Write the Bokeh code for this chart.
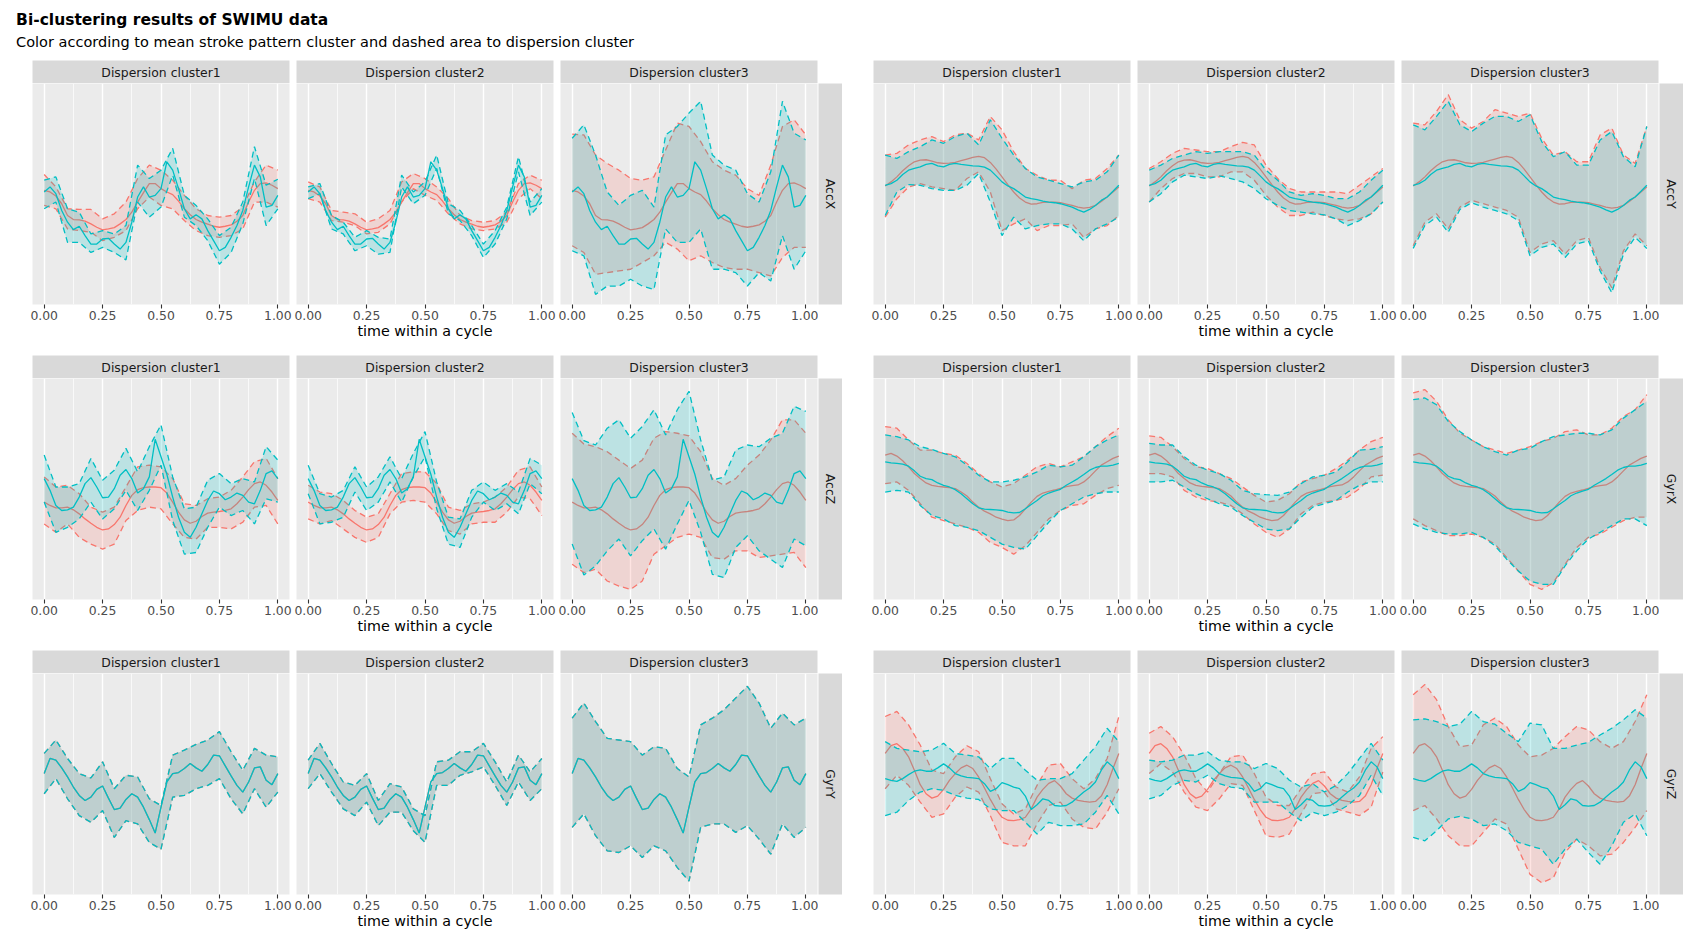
import math
from bokeh.plotting import figure
from bokeh.layouts import row, column
from bokeh.models import Range1d, FixedTicker, PrintfTickFormatter
from bokeh.embed import file_html
from bokeh.resources import INLINE
from bokeh.core.properties import value

# ---------------- data (arbitrary sensor units) ----------------
# band limits are sampled every 0.05 of the cycle, mean curves every 0.025
time = [0.00, 0.05, 0.10, 0.15, 0.20, 0.25, 0.30, 0.35, 0.40, 0.45, 0.50,
        0.55, 0.60, 0.65, 0.70, 0.75, 0.80, 0.85, 0.90, 0.95, 1.00]
time_fine = [0.000, 0.025, 0.050, 0.075, 0.100, 0.125, 0.150, 0.175, 0.200, 0.225,
             0.250, 0.275, 0.300, 0.325, 0.350, 0.375, 0.400, 0.425, 0.450, 0.475,
             0.500, 0.525, 0.550, 0.575, 0.600, 0.625, 0.650, 0.675, 0.700, 0.725,
             0.750, 0.775, 0.800, 0.825, 0.850, 0.875, 0.900, 0.925, 0.950, 0.975, 1.000]
clusters = ["Dispersion cluster1", "Dispersion cluster2", "Dispersion cluster3"]
x_ticks = [0.0, 0.25, 0.5, 0.75, 1.0]
x_minor = [0.125, 0.375, 0.625, 0.875]
title_text = "Bi-clustering results of SWIMU data"
subtitle_text = "Color according to mean stroke pattern cluster and dashed area to dispersion cluster"
x_label = "time within a cycle"

# AccX
accx_red_mean = [395,390,378,355,320,308,307,303,295,285,277,280,284,295,308,330,360,388,415,415,
                 400,390,382,363,340,322,308,300,294,288,285,288,292,303,320,360,395,415,417,410,400]
accx_teal_mean = [390,405,385,335,300,278,288,260,235,235,250,252,235,220,240,300,375,405,375,380,
                  400,480,455,400,340,310,322,310,275,245,215,225,255,290,335,405,470,435,345,350,380]
accx_c1_red_hi = [442,405,340,338,338,310,325,360,430,470,455,425,380,340,320,315,320,345,420,470,455]
accx_c1_red_lo = [350,340,280,275,270,245,255,275,340,375,350,340,305,275,260,255,260,280,360,360,345]
accx_c1_teal_hi = [425,435,340,330,265,275,265,290,470,430,455,520,380,350,310,260,285,360,525,410,428]
accx_c1_teal_lo = [340,360,240,240,210,225,210,188,360,315,345,440,315,290,245,175,210,295,430,290,340]
accx_c2_red_hi = [420,405,335,330,325,300,310,335,420,445,430,405,370,320,305,300,305,330,415,440,425]
accx_c2_red_lo = [370,360,305,300,290,265,270,295,360,400,380,365,325,295,280,275,280,300,370,400,370]
accx_c2_teal_hi = [405,415,320,300,255,275,255,250,440,390,420,500,355,335,290,235,275,345,495,360,400]
accx_c2_teal_lo = [370,385,280,265,215,230,205,210,405,355,380,460,325,305,260,195,235,310,450,320,360]
accx_c3_red_hi = [562,560,500,475,455,430,425,435,515,595,585,540,480,455,440,400,380,470,585,605,560]
accx_c3_red_lo = [230,210,145,150,155,160,180,200,240,220,185,200,180,165,160,160,150,140,195,225,225]
accx_c3_teal_hi = [550,590,500,390,350,380,395,345,560,585,625,660,500,470,455,385,360,450,660,565,545]
accx_c3_teal_lo = [215,200,85,110,110,130,110,100,280,240,240,280,160,160,150,110,150,125,260,160,215]

# AccY
accy_red_mean = [408,420,435,453,468,480,485,486,482,477,475,476,478,483,488,493,496,492,478,458,
                 435,412,390,372,360,354,355,359,360,360,358,354,350,345,342,344,350,362,375,390,405]
accy_teal_mean = [410,415,425,442,455,460,465,472,475,468,465,472,475,472,470,468,467,464,455,438,
                  420,408,400,388,375,370,367,363,360,358,355,350,345,337,330,338,350,365,375,392,410]
accy_c1_red_hi = [500,505,530,545,555,540,560,565,545,615,575,510,460,440,425,425,400,425,430,460,500]
accy_c1_red_lo = [315,370,405,415,405,400,395,430,450,390,275,295,310,275,290,290,295,255,280,290,320]
accy_c1_teal_hi = [500,490,510,525,545,535,555,565,530,605,550,500,460,435,425,415,405,420,425,450,500]
accy_c1_teal_lo = [320,390,412,410,400,395,395,410,445,360,260,315,280,290,295,295,280,245,280,295,315]
accy_c2_red_hi = [460,480,505,520,515,510,510,525,538,530,470,430,400,390,390,390,390,385,410,435,460]
accy_c2_red_lo = [360,400,430,445,445,435,435,450,450,425,380,345,320,320,330,320,310,305,310,325,360]
accy_c2_teal_hi = [455,470,490,500,510,505,510,510,510,500,455,425,390,380,385,380,370,370,390,425,455]
accy_c2_teal_lo = [360,385,420,440,435,430,438,430,420,400,370,350,335,330,325,322,310,290,305,325,360]
accy_c3_red_hi = [595,590,630,680,605,580,600,635,625,615,625,550,500,510,480,480,560,580,500,475,585]
accy_c3_red_lo = [230,300,325,280,345,365,355,345,335,315,210,235,245,205,245,255,165,105,215,265,230]
accy_c3_teal_hi = [590,575,615,660,590,570,595,615,615,600,620,540,495,510,470,470,545,570,495,465,585]
accy_c3_teal_lo = [222,290,315,270,338,358,345,335,325,305,200,225,235,195,235,245,155,90,205,255,222]

# AccZ
accz_red_mean = [345,335,328,328,330,322,310,295,282,270,262,265,278,300,335,365,382,388,390,390,
                 388,372,345,315,292,282,288,302,312,315,317,320,325,340,360,382,400,405,395,375,350]
accz_teal_mean = [415,380,335,320,322,330,360,400,418,390,358,360,385,425,442,415,372,385,420,532,
                  480,428,360,300,255,240,270,310,350,378,370,352,360,372,365,345,340,380,430,438,415]
accz_c1_red_hi = [420,390,395,370,330,315,330,390,450,455,450,415,340,335,355,360,380,420,465,475,415]
accz_c1_red_lo = [280,255,280,240,220,205,220,290,320,330,325,280,240,235,270,270,265,285,330,335,280]
accz_c1_teal_hi = [485,390,390,400,475,410,440,505,435,510,575,420,325,330,410,430,400,415,405,510,470]
accz_c1_teal_lo = [345,255,270,295,345,295,325,380,320,380,455,290,190,195,270,330,305,320,280,355,345]
accz_c2_red_hi = [395,375,370,350,320,300,310,370,430,435,435,400,330,320,340,345,360,390,440,450,390]
accz_c2_red_lo = [295,280,290,265,240,225,240,310,345,350,345,310,260,250,280,285,285,315,360,355,305]
accz_c2_teal_hi = [455,370,360,380,450,390,420,480,415,490,555,405,300,295,380,405,380,400,375,475,455]
accz_c2_teal_lo = [370,280,285,300,375,320,345,405,345,420,480,325,220,210,300,345,320,340,310,400,370]
accz_c3_red_hi = [550,518,510,495,470,445,470,535,555,550,542,495,415,395,415,455,485,530,590,590,550]
accz_c3_red_lo = [160,135,145,110,95,85,110,190,215,240,250,240,180,175,200,200,180,185,190,195,150]
accz_c3_teal_hi = [612,528,515,565,590,535,570,620,545,620,675,530,410,420,500,515,510,535,550,630,615]
accz_c3_teal_lo = [220,128,155,200,235,185,230,265,205,280,350,255,130,120,210,245,200,175,150,235,215]

# GyrX
gyrx_red_mean = [485,490,482,468,450,430,415,402,395,392,390,388,385,375,363,345,330,318,310,300,
                 294,290,292,305,325,345,362,372,377,381,386,391,394,396,405,420,438,455,465,475,482]
gyrx_teal_mean = [465,462,460,458,452,438,422,415,412,402,395,390,382,370,355,340,328,324,323,322,
                  320,315,313,314,325,338,350,364,372,378,383,395,405,415,427,440,448,452,452,455,460]
gyrx_c1_red_hi = [570,565,530,500,500,490,485,460,430,405,390,400,425,450,460,450,465,480,510,540,565]
gyrx_c1_red_lo = [400,405,380,340,300,290,280,270,255,225,210,190,215,255,295,320,335,340,365,385,395]
gyrx_c1_teal_hi = [545,540,530,510,502,490,480,455,425,405,405,410,420,435,455,450,455,480,510,530,545]
gyrx_c1_teal_lo = [375,380,375,335,305,295,275,270,260,240,220,210,205,245,285,320,340,360,370,375,375]
gyrx_c2_red_hi = [542,538,510,475,450,445,430,415,390,365,345,350,370,405,415,425,445,470,500,525,538]
gyrx_c2_red_lo = [430,430,420,380,360,350,345,335,310,280,255,240,265,310,335,345,350,360,385,420,425]
gyrx_c2_teal_hi = [520,515,515,480,455,440,430,410,380,370,367,365,375,400,420,425,435,465,500,502,510]
gyrx_c2_teal_lo = [405,405,410,390,370,355,340,330,305,285,265,260,265,300,330,340,350,375,395,405,405]
gyrx_c3_red_hi = [670,680,645,590,550,530,510,500,490,500,510,525,535,555,560,545,545,565,600,620,665]
gyrx_c3_red_lo = [295,275,260,245,245,250,240,220,180,140,100,85,105,160,210,240,250,270,290,300,300]
gyrx_c3_teal_hi = [650,655,635,585,555,530,510,495,485,500,505,525,540,545,550,550,545,560,595,620,645]
gyrx_c3_teal_lo = [280,265,255,250,250,255,240,215,175,140,110,100,100,155,200,235,255,275,295,295,275]

# GyrY (both mean-pattern clusters coincide)
gyry_teal_mean = [415,460,455,432,405,375,350,335,345,368,378,342,308,312,338,355,345,315,278,238,
                  315,390,415,418,430,445,432,422,442,470,468,438,408,380,360,390,432,435,395,382,415]
gyry_red_mean = [415,460,455,432,405,375,350,335,345,368,378,342,308,312,338,355,345,315,278,238,
                 315,390,415,418,430,445,432,422,442,470,468,438,408,380,360,390,432,435,395,382,415]
gyry_c1_hi = [475,515,460,415,402,450,370,410,405,340,320,470,485,502,515,540,480,425,490,470,465]
gyry_c1_lo = [355,400,340,290,270,305,225,275,265,210,190,345,350,370,380,400,340,295,370,315,360]
gyry_c2_hi = [455,505,445,390,380,415,335,385,375,310,290,450,455,480,480,505,450,390,470,420,460]
gyry_c2_lo = [370,415,360,310,290,330,260,300,300,245,210,380,380,410,420,435,380,320,390,335,370]
gyry_c3_hi = [580,625,570,520,515,510,470,495,490,430,405,560,580,605,640,675,625,550,595,560,580]
gyry_c3_lo = [255,295,230,185,180,200,165,200,185,135,95,255,265,265,240,260,220,175,265,225,255]

# GyrZ
gyrz_red_mean = [475,498,504,490,465,425,382,355,342,348,368,395,415,432,440,430,405,372,338,308,
                 285,276,275,278,285,310,345,368,386,394,378,355,342,335,332,330,332,348,382,430,475]
gyrz_teal_mean = [400,395,392,400,412,422,426,422,422,432,444,432,415,408,404,402,400,385,362,370,
                  388,382,375,370,348,308,322,340,335,320,318,320,330,345,360,372,390,425,450,435,400]
gyrz_c1_red_hi = [585,600,560,500,425,415,465,498,480,400,325,295,310,380,440,445,400,370,400,460,585]
gyrz_c1_red_lo = [370,410,380,330,285,295,345,375,360,290,210,200,200,265,320,330,280,255,250,300,370]
gyrz_c1_teal_hi = [510,490,485,480,485,505,475,470,465,430,460,460,425,395,400,400,415,455,495,550,510]
gyrz_c1_teal_lo = [290,300,335,360,370,365,350,342,338,310,305,305,270,235,270,260,260,265,300,350,295]
gyrz_c2_red_hi = [535,555,525,470,400,360,415,465,470,415,345,320,320,370,415,420,375,360,405,490,525]
gyrz_c2_red_lo = [415,445,420,360,315,305,340,385,380,305,230,225,235,295,355,360,310,300,290,315,420]
gyrz_c2_teal_hi = [455,450,455,470,470,480,455,450,450,430,445,430,395,375,385,360,380,415,460,505,455]
gyrz_c2_teal_lo = [340,350,380,395,390,410,385,375,370,330,330,330,300,275,300,290,300,320,350,410,350]
gyrz_c3_red_hi = [650,680,635,555,495,500,560,580,555,500,465,470,490,525,555,545,510,490,510,570,650]
gyrz_c3_red_lo = [305,320,280,230,200,200,240,280,265,190,115,90,105,180,220,200,170,175,210,255,305]
gyrz_c3_teal_hi = [575,578,570,555,562,600,570,562,535,510,565,560,490,490,500,508,530,550,575,605,580]
gyrz_c3_teal_lo = [225,215,245,280,288,280,260,265,245,210,200,190,145,190,220,180,145,200,270,295,230]

# ---------------- styling ----------------
RED = "#F8766D"
TEAL = "#00BFC4"
FONT = "DejaVu Sans"
PANEL_BG = "#EBEBEB"
STRIP_BG = "#D9D9D9"
FRAME_W, FRAME_H, STRIP_H, RSTRIP_W = 257, 221, 23, 24
Y_RANGE = (55, 713)
SMALL = "12.4px"


def strip_fig(label, bl, br):
    s = figure(frame_width=FRAME_W, frame_height=STRIP_H, min_border_left=bl, min_border_right=br,
               min_border_top=0, min_border_bottom=0, x_range=Range1d(0, 1), y_range=Range1d(0, 1),
               x_axis_type=None, y_axis_type=None, background_fill_color=STRIP_BG,
               border_fill_color="white", outline_line_color=None, title=None,
               toolbar_location=None, output_backend="svg")
    s.text(x=[0.5], y=[0.5], text=[label], text_align="center", text_baseline="middle",
           text_font=value(FONT), text_font_size=SMALL, text_color="#1A1A1A")
    return s


def right_strip(label, bottom):
    s = figure(frame_width=RSTRIP_W, frame_height=FRAME_H, min_border_left=0, min_border_right=0,
               min_border_top=STRIP_H, min_border_bottom=bottom, x_range=Range1d(0, 1),
               y_range=Range1d(0, 1), x_axis_type=None, y_axis_type=None,
               background_fill_color=STRIP_BG, border_fill_color="white", outline_line_color=None,
               title=None, toolbar_location=None, output_backend="svg")
    s.text(x=[0.5], y=[0.5], text=[label], angle=-math.pi / 2, text_align="center",
           text_baseline="middle", text_font=value(FONT), text_font_size=SMALL,
           text_color="#1A1A1A")
    return s


def panel_fig(red_mean, teal_mean, red_hi, red_lo, teal_hi, teal_lo, bl, br, bottom, with_label):
    p = figure(frame_width=FRAME_W, frame_height=FRAME_H, min_border_left=bl, min_border_right=br,
               min_border_top=0, min_border_bottom=bottom, x_range=Range1d(-0.05, 1.05),
               y_range=Range1d(*Y_RANGE), y_axis_type=None, background_fill_color=PANEL_BG,
               border_fill_color="white", outline_line_color=None, title=None,
               toolbar_location=None, output_backend="svg")
    ticker = FixedTicker(ticks=x_ticks, minor_ticks=x_minor)
    p.xaxis.ticker = ticker
    p.xgrid.ticker = ticker
    p.xaxis.formatter = PrintfTickFormatter(format="%.2f")
    p.xgrid.grid_line_color = "white"
    p.xgrid.grid_line_width = 1.4
    p.xgrid.minor_grid_line_color = "white"
    p.xgrid.minor_grid_line_width = 0.7
    ax = p.xaxis[0]
    ax.axis_line_color = None
    ax.major_tick_line_color = "#333333"
    ax.major_tick_line_width = 1.1
    ax.major_tick_out = 4
    ax.major_tick_in = 0
    ax.minor_tick_line_color = None
    ax.major_label_standoff = 2
    ax.major_label_text_font = FONT
    ax.major_label_text_font_size = SMALL
    ax.major_label_text_color = "#4D4D4D"
    if with_label:
        ax.axis_label = x_label
        ax.axis_label_text_font = FONT
        ax.axis_label_text_font_size = "14.3px"
        ax.axis_label_text_font_style = "normal"
        ax.axis_label_text_color = "black"
        ax.axis_label_standoff = 0

    for col, mean, hi, lo in ((RED, red_mean, red_hi, red_lo), (TEAL, teal_mean, teal_hi, teal_lo)):
        p.varea(x=time, y1=lo, y2=hi, fill_color=col, fill_alpha=0.2)
        p.line(time, hi, line_color=col, line_width=1.3, line_dash="6 4")
        p.line(time, lo, line_color=col, line_width=1.3, line_dash="6 4")
        p.line(time_fine, mean, line_color=col, line_width=1.3)
    return p


def block(name, red_mean, teal_mean, panels, left_pad, bottom):
    borders = [(left_pad, 4), (3, 3), (4, 1)]
    cols = []
    for k in range(3):
        bl, br = borders[k]
        rh, rl, th, tl = panels[k]
        s = strip_fig(clusters[k], bl, br)
        p = panel_fig(red_mean, teal_mean, rh, rl, th, tl, bl, br, bottom, k == 1)
        cols.append(column(s, p, spacing=0))
    cols.append(right_strip(name, bottom))
    return row(*cols, spacing=0)


LEFT_PAD, MID_PAD = 32, 31
accx = block("AccX", accx_red_mean, accx_teal_mean,
             [(accx_c1_red_hi, accx_c1_red_lo, accx_c1_teal_hi, accx_c1_teal_lo),
              (accx_c2_red_hi, accx_c2_red_lo, accx_c2_teal_hi, accx_c2_teal_lo),
              (accx_c3_red_hi, accx_c3_red_lo, accx_c3_teal_hi, accx_c3_teal_lo)], LEFT_PAD, 51)
accy = block("AccY", accy_red_mean, accy_teal_mean,
             [(accy_c1_red_hi, accy_c1_red_lo, accy_c1_teal_hi, accy_c1_teal_lo),
              (accy_c2_red_hi, accy_c2_red_lo, accy_c2_teal_hi, accy_c2_teal_lo),
              (accy_c3_red_hi, accy_c3_red_lo, accy_c3_teal_hi, accy_c3_teal_lo)], MID_PAD, 51)
accz = block("AccZ", accz_red_mean, accz_teal_mean,
             [(accz_c1_red_hi, accz_c1_red_lo, accz_c1_teal_hi, accz_c1_teal_lo),
              (accz_c2_red_hi, accz_c2_red_lo, accz_c2_teal_hi, accz_c2_teal_lo),
              (accz_c3_red_hi, accz_c3_red_lo, accz_c3_teal_hi, accz_c3_teal_lo)], LEFT_PAD, 51)
gyrx = block("GyrX", gyrx_red_mean, gyrx_teal_mean,
             [(gyrx_c1_red_hi, gyrx_c1_red_lo, gyrx_c1_teal_hi, gyrx_c1_teal_lo),
              (gyrx_c2_red_hi, gyrx_c2_red_lo, gyrx_c2_teal_hi, gyrx_c2_teal_lo),
              (gyrx_c3_red_hi, gyrx_c3_red_lo, gyrx_c3_teal_hi, gyrx_c3_teal_lo)], MID_PAD, 51)
gyry = block("GyrY", gyry_red_mean, gyry_teal_mean,
             [(gyry_c1_hi, gyry_c1_lo, gyry_c1_hi, gyry_c1_lo),
              (gyry_c2_hi, gyry_c2_lo, gyry_c2_hi, gyry_c2_lo),
              (gyry_c3_hi, gyry_c3_lo, gyry_c3_hi, gyry_c3_lo)], LEFT_PAD, 50)
gyrz = block("GyrZ", gyrz_red_mean, gyrz_teal_mean,
             [(gyrz_c1_red_hi, gyrz_c1_red_lo, gyrz_c1_teal_hi, gyrz_c1_teal_lo),
              (gyrz_c2_red_hi, gyrz_c2_red_lo, gyrz_c2_teal_hi, gyrz_c2_teal_lo),
              (gyrz_c3_red_hi, gyrz_c3_red_lo, gyrz_c3_teal_hi, gyrz_c3_teal_lo)], MID_PAD, 50)

HDR_W, HDR_H = 1683, 60
hdr = figure(width=HDR_W, height=HDR_H, x_range=Range1d(0, HDR_W), y_range=Range1d(HDR_H, 0),
             x_axis_type=None, y_axis_type=None, min_border=0, outline_line_color=None,
             title=None, toolbar_location=None, output_backend="svg")
hdr.text(x=[15.6], y=[19.5], text=[title_text], text_font=value(FONT), text_font_size="15.5px",
         text_font_style="bold", text_baseline="alphabetic", text_color="black")
hdr.text(x=[15.6], y=[41.0], text=[subtitle_text], text_font=value(FONT),
         text_font_size="14.5px", text_baseline="alphabetic", text_color="black")

layout = column(hdr, row(accx, accy, spacing=0), row(accz, gyrx, spacing=0),
                row(gyry, gyrz, spacing=0), spacing=0)

open("out.html", "w").write(file_html(layout, INLINE, title="Bi-clustering results of SWIMU data"))
